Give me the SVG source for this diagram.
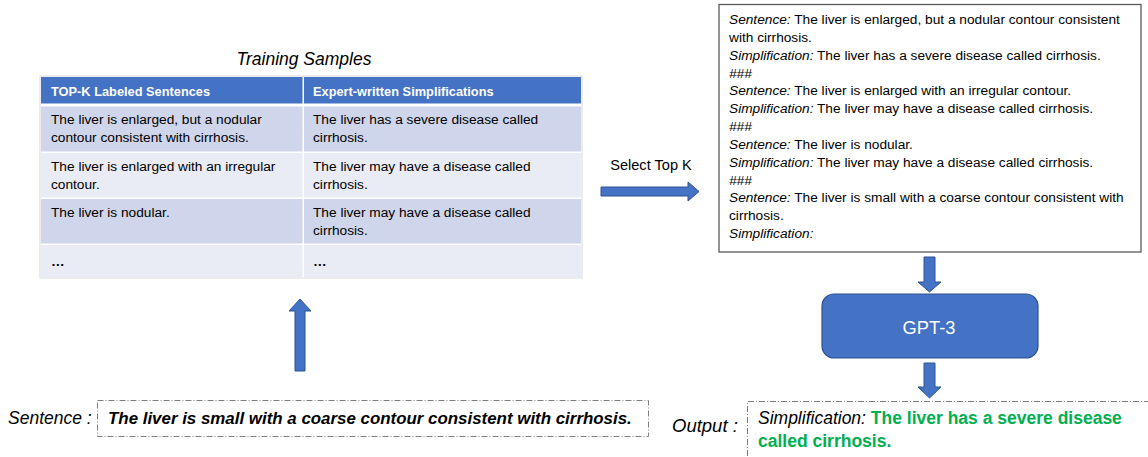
<svg xmlns="http://www.w3.org/2000/svg" width="1148" height="457" viewBox="0 0 1148 457">
<style>
text{font-family:"Liberation Sans",Arial,sans-serif;fill:#000}
.b{font-size:13.7px}
.h{font-size:12.8px;font-weight:bold;fill:#fff}
.i{font-style:italic}
.hd{fill:#4472C4}
.r1{fill:#CFD5EA}
.r2{fill:#E9EBF5}
.arrow{fill:#4472C4;stroke:#2F528F;stroke-width:1}
.dash{fill:none;stroke:#7F7F7F;stroke-width:1;stroke-dasharray:6 2 1 2}
</style>
<rect width="1148" height="457" fill="#fff"/>
<g id="training-samples">
<text x="304" y="65" text-anchor="middle" class="i" font-size="17.5">Training Samples</text>
<rect x="40" y="76" width="542" height="202" fill="#fff" stroke="#D9D9D9" stroke-width="1"/>
<rect class="hd" x="41" y="77" width="261.5" height="26.5"/>
<rect class="hd" x="304" y="77" width="277" height="26.5"/>
<rect class="r1" x="41" y="106.5" width="261.5" height="45"/>
<rect class="r1" x="304" y="106.5" width="277" height="45"/>
<rect class="r2" x="41" y="153" width="261.5" height="44.5"/>
<rect class="r2" x="304" y="153" width="277" height="44.5"/>
<rect class="r1" x="41" y="199" width="261.5" height="44.5"/>
<rect class="r1" x="304" y="199" width="277" height="44.5"/>
<rect class="r2" x="41" y="245" width="261.5" height="32"/>
<rect class="r2" x="304" y="245" width="277" height="32"/>
<text class="h" x="51" y="95.5">TOP-K Labeled Sentences</text>
<text class="h" x="313" y="95.5">Expert-written Simplifications</text>
<text class="b" x="51" y="124">The liver is enlarged, but a nodular</text>
<text class="b" x="51" y="142">contour consistent with cirrhosis.</text>
<text class="b" x="313" y="124">The liver has a severe disease called</text>
<text class="b" x="313" y="142">cirrhosis.</text>
<text class="b" x="51" y="171">The liver is enlarged with an irregular</text>
<text class="b" x="51" y="189">contour.</text>
<text class="b" x="313" y="171">The liver may have a disease called</text>
<text class="b" x="313" y="189">cirrhosis.</text>
<text class="b" x="51" y="217">The liver is nodular.</text>
<text class="b" x="313" y="217">The liver may have a disease called</text>
<text class="b" x="313" y="235">cirrhosis.</text>
<text class="b" x="51" y="266" font-weight="bold">…</text>
<text class="b" x="313" y="266" font-weight="bold">…</text>
</g>
<g id="select-label">
<text x="651" y="170" text-anchor="middle" font-size="14.6">Select Top K</text>
</g>
<g id="prompt">
<rect x="719" y="4.5" width="422" height="247.5" fill="#fff" stroke="#595959" stroke-width="1.3"/>
<g class="b">
<text x="729" y="24"><tspan class="i">Sentence:</tspan> The liver is enlarged, but a nodular contour consistent</text>
<text x="729" y="41.8">with cirrhosis.</text>
<text x="729" y="59.7"><tspan class="i">Simplification:</tspan> The liver has a severe disease called cirrhosis.</text>
<text x="729" y="77.5" class="i">###</text>
<text x="729" y="95.3"><tspan class="i">Sentence:</tspan> The liver is enlarged with an irregular contour.</text>
<text x="729" y="113.2"><tspan class="i">Simplification:</tspan> The liver may have a disease called cirrhosis.</text>
<text x="729" y="131" class="i">###</text>
<text x="729" y="148.8"><tspan class="i">Sentence:</tspan> The liver is nodular.</text>
<text x="729" y="166.7"><tspan class="i">Simplification:</tspan> The liver may have a disease called cirrhosis.</text>
<text x="729" y="184.5" class="i">###</text>
<text x="729" y="202.3"><tspan class="i">Sentence:</tspan> The liver is small with a coarse contour consistent with</text>
<text x="729" y="220.2">cirrhosis.</text>
<text x="729" y="238" class="i">Simplification:</text>
</g>
</g>
<g id="gpt3">
<rect x="822" y="294" width="216" height="64" rx="12" fill="#4472C4" stroke="#2F528F" stroke-width="1.2"/>
<text x="929" y="334" text-anchor="middle" font-size="18.3" style="fill:#fff">GPT-3</text>
</g>
<g id="input-sentence">
<text x="8" y="424" class="i" font-size="17.5">Sentence :</text>
<rect class="dash" x="97.5" y="400.5" width="551" height="36"/>
<text x="108" y="424" class="i" font-size="16.9" font-weight="bold">The liver is small with a coarse contour consistent with cirrhosis.</text>
</g>
<g id="output">
<text x="672" y="432" class="i" font-size="18.5">Output :</text>
<path class="dash" d="M1150,401.5 H747.5 V460"/>
<text x="758" y="424" font-size="17.5"><tspan class="i">Simplification:</tspan> <tspan font-weight="bold" style="fill:#00B050">The liver has a severe disease</tspan></text>
<text x="758" y="447" font-size="17.5" font-weight="bold" style="fill:#00B050">called cirrhosis.</text>
</g>
<g id="connectors">
<polygon class="arrow" points="601,187 688,187 688,182 699,191.5 688,201 688,196 601,196"/>
<polygon class="arrow" points="295,371 295,311 289,311 300,299 311,311 305,311 305,371"/>
<polygon class="arrow" points="924,257 935,257 935,282 941,282 929.5,292 918,282 924,282"/>
<polygon class="arrow" points="924,363 935,363 935,387 941,387 929.5,398 918,387 924,387"/>
</g>
</svg>
